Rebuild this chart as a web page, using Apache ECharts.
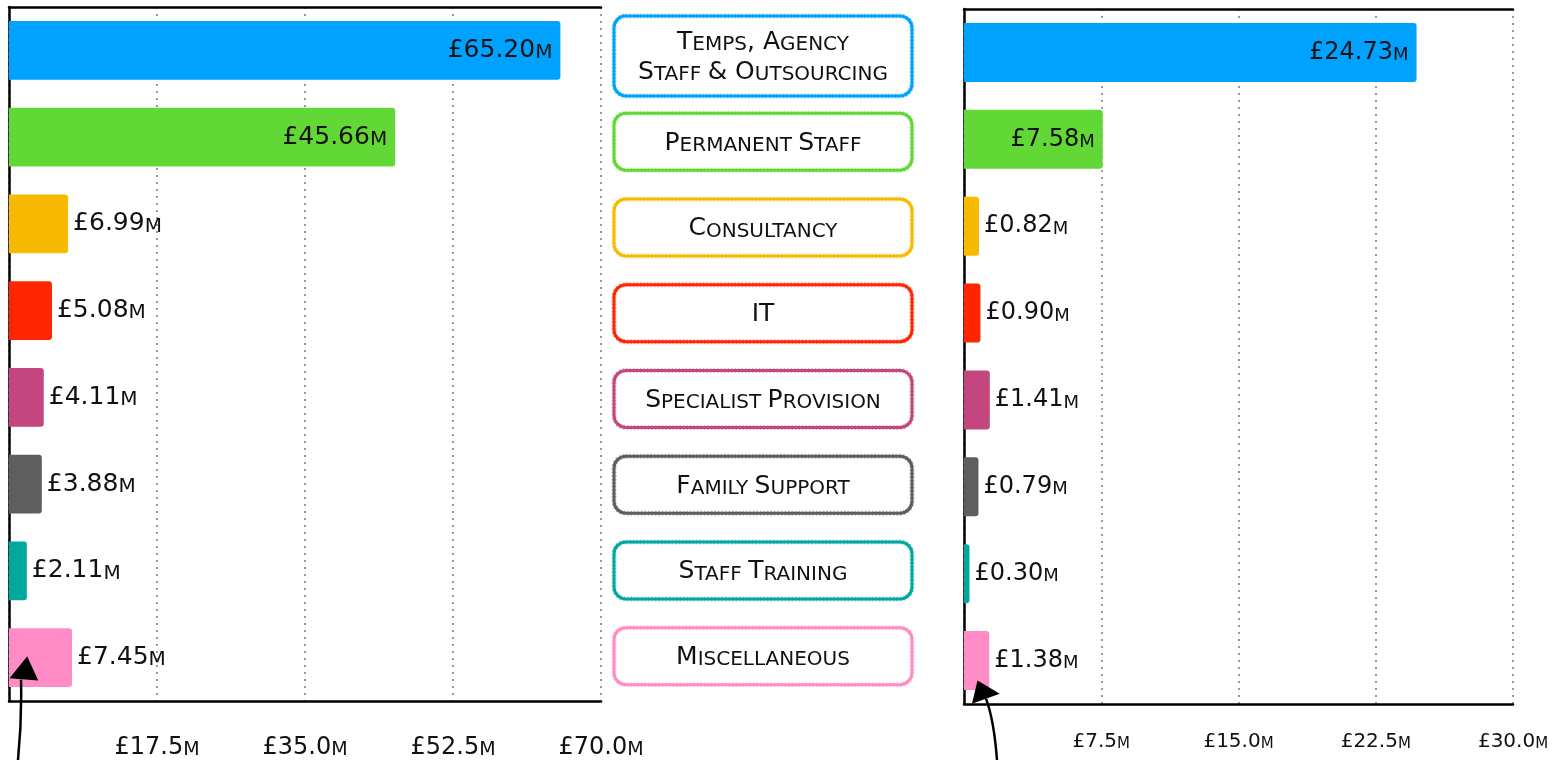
<!DOCTYPE html>
<html>
<head>
<meta charset="utf-8">
<script src="https://cdn.jsdelivr.net/npm/echarts@6/dist/echarts.min.js"></script>
<style>
html,body{margin:0;padding:0;background:#fff;}
#chart{width:1553px;height:760px;}
</style>
</head>
<body>
<div id="chart"></div>
<script>
const categories = ['Temps, Agency Staff & Outsourcing','Permanent Staff','Consultancy','IT','Specialist Provision','Family Support','Staff Training','Miscellaneous'];
const leftValues = [65.20, 45.66, 6.99, 5.08, 4.11, 3.88, 2.11, 7.45];
const rightValues = [24.73, 7.58, 0.82, 0.90, 1.41, 0.79, 0.30, 1.38];
const leftAxisMax = 70, leftAxisStep = 17.5;
const rightAxisMax = 30, rightAxisStep = 7.5;
const colors = ['#00A2FF','#61D836','#F8BA00','#FF2600','#C4467F','#5E5E5E','#00A89D','#FF8CC6'];

const FONT = 'DejaVu Sans';

function moneyRich(v, dec){ return '{n|£' + v.toFixed(dec) + '}{m|M}'; }

function wrapLabel(t){
  if (t.length <= 22) return [t];
  let best = null, bestMax = 1e9;
  for (let i = 0; i < t.length; i++) {
    if (t[i] === ' ') {
      const a = t.slice(0, i), b = t.slice(i + 1);
      const m = Math.max(a.length, b.length);
      if (m < bestMax) { bestMax = m; best = [a, b]; }
    }
  }
  return best || [t];
}
function smallCaps(line){
  let out = '', cur = null, buf = '';
  for (const ch of line) {
    const isLow = /[a-z]/.test(ch);
    const style = ch === ' ' ? (cur || 'b') : (isLow ? 's' : 'b');
    if (style !== cur && cur !== null) { out += '{' + cur + '|' + buf + '}'; buf = ''; }
    cur = style; buf += ch.toUpperCase();
  }
  if (buf) out += '{' + cur + '|' + buf + '}';
  return out;
}

function labelFor(v, max){
  return v / max > 0.2 ? {position:'insideRight', distance:8} : {position:'right', distance:5};
}

function barLabelRich(big, small){
  return {
    n:{fontFamily:FONT, fontSize:big, color:'#111', verticalAlign:'bottom'},
    m:{fontFamily:FONT, fontSize:small, color:'#111', verticalAlign:'bottom'}
  };
}

function valueAxis(grid, max, step, margin, big, small){
  return [{
    gridIndex:grid, type:'value', min:0, max:max, interval:step,
    axisLine:{show:true, onZero:false, lineStyle:{color:'#000', width:2.5}},
    axisTick:{show:false},
    splitLine:{show:true, lineStyle:{type:[2,5], color:'#999', width:2}},
    axisLabel:{margin:margin, formatter:v => v === 0 ? '' : moneyRich(v, 1), rich:barLabelRich(big, small)}
  },{
    gridIndex:grid, type:'value', position:'top', min:0, max:max, interval:step,
    axisLine:{show:true, onZero:false, lineStyle:{color:'#000', width:2.5}},
    axisTick:{show:false}, axisLabel:{show:false}, splitLine:{show:false}
  }];
}
function catAxis(grid){
  return {
    gridIndex:grid, type:'category', data:categories, inverse:true,
    axisLine:{show:true, lineStyle:{color:'#000', width:2.5}},
    axisTick:{show:false}, axisLabel:{show:false}, splitLine:{show:false}
  };
}
function barSeries(xi, yi, values, max, big, small){
  return {
    type:'bar', xAxisIndex:xi, yAxisIndex:yi, barWidth:'68%',
    itemStyle:{borderRadius:[0,3,3,0]},
    label:{show:true, formatter:p => moneyRich(p.value, 2), rich:barLabelRich(big, small)},
    data: values.map((v, i) => ({value:v, itemStyle:{color:colors[i]}, label:labelFor(v, max)})),
    z:3
  };
}

const boxRich = {
  b:{fontFamily:FONT, fontSize:25, lineHeight:30, color:'#111', verticalAlign:'bottom'},
  s:{fontFamily:FONT, fontSize:20, lineHeight:25, color:'#111', verticalAlign:'bottom'}
};

const chart = echarts.init(document.getElementById('chart'));
const option = {
  animation:false,
  backgroundColor:'#fff',
  grid:[
    {left:9, top:7, width:592, height:694},
    {left:964, top:9, width:549, height:695},
    {left:614, top:13, width:298, height:686}
  ],
  xAxis:[
    ...valueAxis(0, leftAxisMax, leftAxisStep, 35, 24, 19),
    ...valueAxis(1, rightAxisMax, rightAxisStep, 28, 20, 15),
    {gridIndex:2, type:'value', min:0, max:1, show:false}
  ],
  yAxis:[catAxis(0), catAxis(1), {gridIndex:2, type:'category', data:categories, inverse:true, show:false}],
  series:[
    barSeries(0, 0, leftValues, leftAxisMax, 25, 20),
    barSeries(2, 1, rightValues, rightAxisMax, 24, 18),
    {
      type:'custom', xAxisIndex:4, yAxisIndex:2,
      data: categories.map((c, i) => [0.5, i]),
      renderItem:(params, api) => {
        const i = params.dataIndex;
        const cy = api.coord([0.5, api.value(1)])[1];
        const cs = params.coordSys;
        const lines = wrapLabel(categories[i]);
        const h = 57 + (lines.length - 1) * 23;
        const shape = {x:cs.x, y:cy - h/2, width:cs.width, height:h, r:12};
        return {type:'group', children:[
          {type:'rect', shape:shape, style:{fill:'#fff', stroke:colors[i], lineWidth:3}},
          {type:'rect', shape:shape, style:{fill:null, stroke:colors[i], lineWidth:5, lineDash:[1.5,2], opacity:0.45}},
          {type:'text', x:cs.x + cs.width/2, y:cy - 1,
           style:{text:lines.map(smallCaps).join('\n'), rich:boxRich, align:'center', verticalAlign:'middle', fill:'#111'}}
        ]};
      }
    }
  ]
};
chart.setOption(option);

function arrow(base, tail, ctrl, head){
  return [
    {type:'bezierCurve', shape:{x1:tail[0], y1:tail[1], x2:base[0], y2:base[1], cpx1:ctrl[0], cpy1:ctrl[1]},
     style:{stroke:'#000', lineWidth:2.5, fill:null}, z:10},
    {type:'polygon', shape:{points:head}, style:{fill:'#000', stroke:'#000', lineWidth:1.5}, z:10}
  ];
}
const pL = chart.convertToPixel({xAxisIndex:0, yAxisIndex:0}, [0, categories.length - 1]);
const pR = chart.convertToPixel({xAxisIndex:2, yAxisIndex:1}, [0, categories.length - 1]);
const g = [];
g.push(...arrow([pL[0]+12, pL[1]+22], [pL[0]+9, 760], [pL[0]+13, 720],
  [[pL[0]+18, pL[1]], [pL[0]+2, pL[1]+20], [pL[0]+28, pL[1]+22]]));
g.push(...arrow([pR[0]+22, pR[1]+38], [pR[0]+33, 760], [pR[0]+30, 720],
  [[pR[0]+14, pR[1]+21], [pR[0]+9, pR[1]+42], [pR[0]+34, pR[1]+33]]));
chart.setOption({graphic:g});
</script>
</body>
</html>
